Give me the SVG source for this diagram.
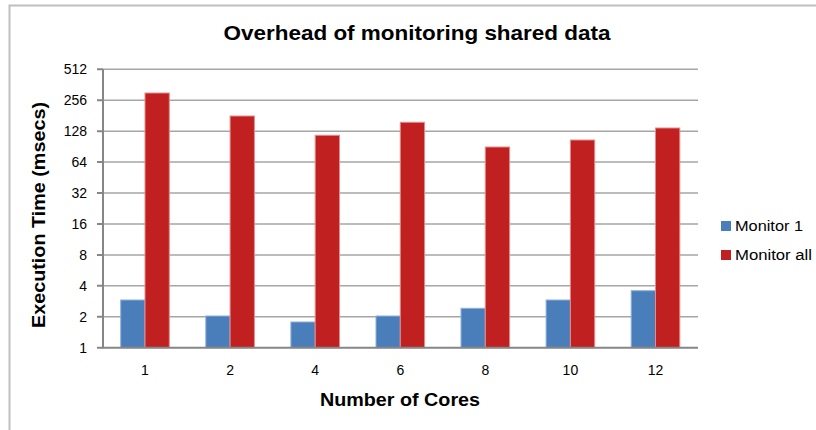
<svg xmlns="http://www.w3.org/2000/svg" width="816" height="430" viewBox="0 0 816 430">
<style>
text{font-family:"Liberation Sans",Arial,sans-serif;fill:#000}
.tick{font-size:14px;text-anchor:end}
.cat{font-size:14px;text-anchor:middle}
.grid{stroke:#A6A6A6;stroke-width:1.5}
.axis{stroke:#868686;stroke-width:2;fill:none}
.b{fill:#4A7EBB;stroke:#8DB0DC;stroke-width:1}
.r{fill:#C0201F;stroke:#E58B8B;stroke-width:1}
.lg{font-size:14px}
</style>
<rect width="816" height="430" fill="#fff"/>
<path d="M9.5 430 V5.5 H816" fill="none" stroke="#BFBFBF" stroke-width="2"/>
<text x="417" y="40" font-size="21" font-weight="bold" text-anchor="middle" textLength="387" lengthAdjust="spacingAndGlyphs">Overhead of monitoring shared data</text>
<g id="gridlines">
<line class="grid" x1="103" y1="316.8" x2="698" y2="316.8"/>
<line class="grid" x1="103" y1="285.8" x2="698" y2="285.8"/>
<line class="grid" x1="103" y1="254.9" x2="698" y2="254.9"/>
<line class="grid" x1="103" y1="224.0" x2="698" y2="224.0"/>
<line class="grid" x1="103" y1="193.0" x2="698" y2="193.0"/>
<line class="grid" x1="103" y1="162.1" x2="698" y2="162.1"/>
<line class="grid" x1="103" y1="131.2" x2="698" y2="131.2"/>
<line class="grid" x1="103" y1="100.3" x2="698" y2="100.3"/>
<line class="grid" x1="103" y1="69.3" x2="698" y2="69.3"/>
</g>
<g id="yticks">
<path class="axis" d="M97 347.7H103M97 316.8H103M97 285.8H103M97 254.9H103M97 224H103M97 193H103M97 162.1H103M97 131.2H103M97 100.3H103M97 69.3H103"/>
<text class="tick" x="87" y="352.7">1</text>
<text class="tick" x="87" y="321.8">2</text>
<text class="tick" x="87" y="290.8">4</text>
<text class="tick" x="87" y="259.9">8</text>
<text class="tick" x="87" y="229">16</text>
<text class="tick" x="87" y="198">32</text>
<text class="tick" x="87" y="167.1">64</text>
<text class="tick" x="87" y="136.2">128</text>
<text class="tick" x="87" y="105.3">256</text>
<text class="tick" x="87" y="74.3">512</text>
</g>
<g id="series-monitor1">
<rect class="b" x="120.7" y="300" width="24.3" height="47.7"/>
<rect class="b" x="205.8" y="316" width="24.3" height="31.7"/>
<rect class="b" x="290.9" y="322" width="24.3" height="25.7"/>
<rect class="b" x="376.0" y="316" width="24.3" height="31.7"/>
<rect class="b" x="461.0" y="308.3" width="24.3" height="39.4"/>
<rect class="b" x="546.1" y="300" width="24.3" height="47.7"/>
<rect class="b" x="631.2" y="290.7" width="24.3" height="57"/>
</g>
<g id="series-monitorall">
<rect class="r" x="145.0" y="93" width="24.3" height="254.7"/>
<rect class="r" x="230.1" y="116" width="24.3" height="231.7"/>
<rect class="r" x="315.2" y="135.3" width="24.3" height="212.4"/>
<rect class="r" x="400.3" y="122.3" width="24.3" height="225.4"/>
<rect class="r" x="485.3" y="147" width="24.3" height="200.7"/>
<rect class="r" x="570.4" y="140" width="24.3" height="207.7"/>
<rect class="r" x="655.5" y="128" width="24.3" height="219.7"/>
</g>
<g id="axes">
<path class="axis" d="M103 69.3V347.7H698"/>
</g>
<g id="xlabels">
<text class="cat" x="145.0" y="375">1</text>
<text class="cat" x="230.1" y="375">2</text>
<text class="cat" x="315.2" y="375">4</text>
<text class="cat" x="400.3" y="375">6</text>
<text class="cat" x="485.3" y="375">8</text>
<text class="cat" x="570.4" y="375">10</text>
<text class="cat" x="655.5" y="375">12</text>
</g>
<text x="400" y="406" font-size="18" font-weight="bold" text-anchor="middle" textLength="160" lengthAdjust="spacingAndGlyphs">Number of Cores</text>
<text transform="translate(45 215) rotate(-90)" font-size="18" font-weight="bold" text-anchor="middle" textLength="226" lengthAdjust="spacingAndGlyphs">Execution Time (msecs)</text>
<g id="legend">
<rect x="721" y="221" width="10" height="10" fill="#4A7EBB"/>
<text class="lg" x="735" y="231" textLength="68" lengthAdjust="spacingAndGlyphs">Monitor 1</text>
<rect x="721" y="250" width="10" height="10" fill="#C0201F"/>
<text class="lg" x="735" y="260" textLength="77" lengthAdjust="spacingAndGlyphs">Monitor all</text>
</g>
</svg>
